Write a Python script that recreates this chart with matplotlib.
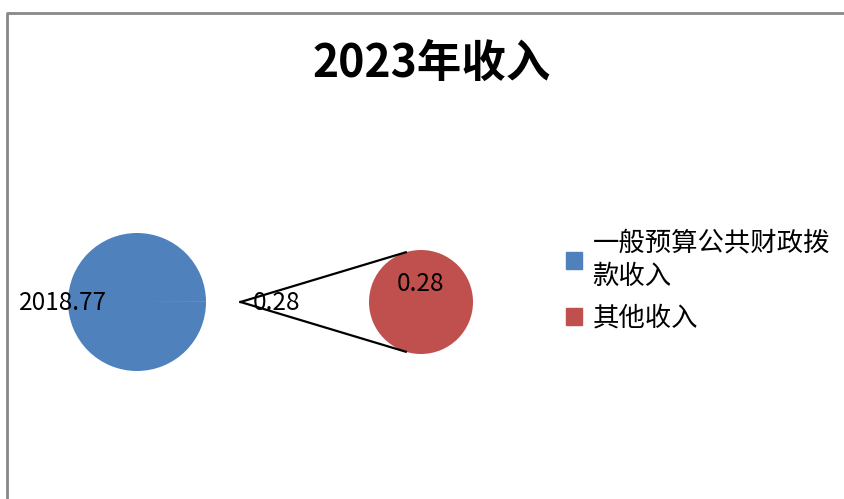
import numpy as np
import matplotlib.pyplot as plt
from matplotlib.patches import Patch

plt.rcParams['font.family'] = ['Noto Sans CJK SC', 'DejaVu Sans']

title = '2023年收入'
categories = ['一般预算公共财政拨\n款收入', '其他收入']
main_values = [2018.77, 0.28]
other_values = [0.28]
colors = ['#4F81BD', '#C0504D']

W, H = 845, 499
fig = plt.figure(figsize=(W / 100, H / 100), dpi=100)
ax = fig.add_axes([0, 0, 1, 1])

# main pie
c1, r1, expl = (137, 302), 69, 0.5
ax.pie(main_values, colors=[colors[0], '#dfe8f3'], center=c1, radius=r1,
       startangle=0, explode=[0, expl], wedgeprops=dict(linewidth=0))

# secondary pie
c2, r2 = (421, 302), 52
ax.pie(other_values, colors=[colors[1]], center=c2, radius=r2,
       wedgeprops=dict(linewidth=0))

# pie() resets the limits, so set them afterwards
ax.set_xlim(0, W)
ax.set_ylim(H, 0)
ax.set_aspect('equal')
ax.axis('off')

# chart frame (cut off at right and bottom)
ax.plot([7, 7, W + 5], [H + 5, 13, 13], color='#888888', lw=2, solid_capstyle='butt')

# connector lines
tip = (c1[0] + (1 + expl) * r1, c1[1])
ang = np.deg2rad(107)
for s in (-1, 1):
    ax.plot([tip[0], c2[0] + r2 * np.cos(ang)], [tip[1], c2[1] + s * r2 * np.sin(ang)],
            color='black', lw=1.6)

# data labels
ax.text(63, 303, f'{main_values[0]:.2f}', fontsize=17.5, ha='center', va='center')
ax.text(277, 303, f'{main_values[1]:.2f}', fontsize=17.5, ha='center', va='center')
ax.text(c2[0], 284, f'{other_values[0]:.2f}', fontsize=17.5, ha='center', va='center')

ax.text(432, 64, title, fontsize=32, fontweight='bold', ha='center', va='center')

handles = [Patch(color=c) for c in colors]
leg = fig.legend(handles, categories, loc='upper left', bbox_to_anchor=(566 / W, 1 - 229 / H),
                 frameon=False, fontsize=19, handlelength=0.6, handleheight=0.6,
                 handletextpad=0.4, labelspacing=0.55, borderpad=0, borderaxespad=0)
for t in leg.get_texts():
    t.set_linespacing(1.35)

fig.savefig('out.png', dpi=100)
